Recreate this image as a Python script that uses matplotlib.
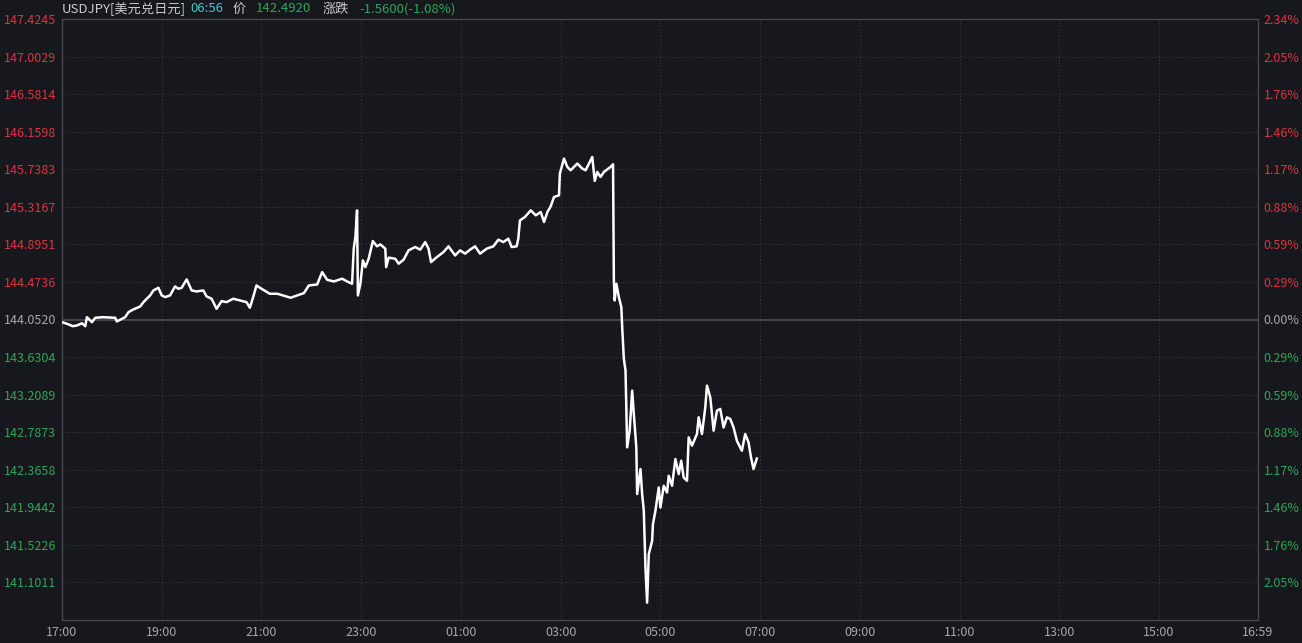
import matplotlib
matplotlib.use("Agg")
import matplotlib.pyplot as plt

plt.rcParams["font.family"] = ["Noto Sans CJK SC", "DejaVu Sans"]

# minutes since 17:00 and USDJPY price
minutes = [0, 6, 13, 18, 24, 28, 30, 36, 40, 49, 64, 66, 76, 80, 85, 94, 98, 106, 110, 116,
           120, 124, 130, 136, 140, 144, 150, 156, 162, 170, 174, 180, 186, 192, 198, 206, 214, 222, 226, 230,
           234, 240, 250, 259, 266, 275, 283, 291, 297, 307, 313, 319, 327, 337, 343, 349, 351, 353, 355, 356,
           359, 362, 365, 369, 374, 379, 383, 389, 390, 393, 401, 405, 411, 417, 425, 431, 437, 441, 444, 451,
           459, 465, 473, 479, 485, 491, 497, 503, 511, 519, 525, 531, 537, 541, 547, 549, 551, 557, 564, 570,
           576, 580, 584, 588, 592, 598, 599, 604, 608, 612, 620, 626, 630, 638, 641, 644, 648, 652, 660, 663,
           664, 665, 667, 670, 673, 674, 676, 678, 680, 683, 686, 688, 691, 692, 696, 698, 700, 702, 704, 706,
           710, 711, 714, 718, 720, 724, 728, 730, 734, 738, 742, 745, 748, 752, 754, 758, 764, 766, 770, 774,
           776, 780, 784, 788, 792, 796, 800, 804, 808, 812, 818, 822, 826, 829, 832, 836]
prices = [144.022, 144.004, 143.977, 143.985, 144.010, 143.977, 144.078, 144.022, 144.071, 144.078,
          144.071, 144.030, 144.078, 144.134, 144.161, 144.198, 144.247, 144.322, 144.378, 144.408,
          144.322, 144.303, 144.322, 144.423, 144.397, 144.408, 144.502, 144.378, 144.367, 144.378,
          144.311, 144.285, 144.172, 144.258, 144.247, 144.285, 144.266, 144.247, 144.184, 144.303,
          144.434, 144.397, 144.341, 144.341, 144.322, 144.296, 144.322, 144.348, 144.434, 144.445,
          144.584, 144.498, 144.479, 144.510, 144.479, 144.453, 144.847, 144.977, 145.277, 144.322,
          144.453, 144.715, 144.640, 144.734, 144.932, 144.873, 144.895, 144.847, 144.640, 144.746,
          144.734, 144.678, 144.723, 144.828, 144.865, 144.836, 144.921, 144.847, 144.696, 144.752,
          144.809, 144.873, 144.771, 144.828, 144.791, 144.836, 144.873, 144.791, 144.847, 144.873,
          144.948, 144.921, 144.959, 144.865, 144.873, 144.959, 145.165, 145.202, 145.277, 145.221,
          145.258, 145.146, 145.258, 145.322, 145.427, 145.446, 145.690, 145.858, 145.764, 145.727,
          145.802, 145.746, 145.727, 145.876, 145.607, 145.708, 145.652, 145.708, 145.764, 145.794,
          144.490, 144.266, 144.453, 144.303, 144.190, 143.965, 143.610, 143.479, 142.617, 142.804,
          143.254, 142.992, 142.617, 142.093, 142.374, 142.093, 141.905, 141.268, 140.874, 141.418,
          141.568, 141.755, 141.905, 142.167, 141.942, 142.186, 142.111, 142.298, 142.186, 142.486,
          142.317, 142.467, 142.279, 142.242, 142.729, 142.636, 142.767, 142.954, 142.767, 143.066,
          143.310, 143.179, 142.804, 143.029, 143.048, 142.841, 142.954, 142.936, 142.841, 142.692,
          142.579, 142.767, 142.673, 142.504, 142.374, 142.492]

prev_close = 144.0520
price_labels = ["147.4245", "147.0029", "146.5814", "146.1598", "145.7383", "145.3167", "144.8951",
                "144.4736", "144.0520", "143.6304", "143.2089", "142.7873", "142.3658", "141.9442",
                "141.5226", "141.1011"]
pct_labels = ["2.34%", "2.05%", "1.76%", "1.46%", "1.17%", "0.88%", "0.59%", "0.29%", "0.00%",
              "0.29%", "0.59%", "0.88%", "1.17%", "1.46%", "1.76%", "2.05%"]
time_ticks = [0, 120, 240, 360, 480, 600, 720, 840, 960, 1080, 1200, 1320, 1439]
time_labels = ["17:00", "19:00", "21:00", "23:00", "01:00", "03:00", "05:00", "07:00",
               "09:00", "11:00", "13:00", "15:00", "16:59"]

bg = "#16181d"
red = "#dc333f"
green = "#2ea556"
gray = "#a4a7ae"

fig = plt.figure(figsize=(13.02, 6.43), dpi=100, facecolor=bg)
ax = fig.add_axes([62 / 1302, 23 / 643, 1196 / 1302, 601 / 643])
ax.set_facecolor(bg)

top = float(price_labels[0])
step = (top - prev_close) / 8
ax.set_ylim(prev_close - 8 * step, top)
ax.set_xlim(time_ticks[0], time_ticks[-1])

# grid
for t in time_ticks[1:-1]:
    ax.axvline(t, color="#363a42", lw=0.8, ls=(0, (1, 2)), zorder=1)
for s in price_labels[1:]:
    v = float(s)
    if abs(v - prev_close) < 1e-6:
        ax.axhline(v, color="#4a4e57", lw=1.2, zorder=1)
    else:
        ax.axhline(v, color="#363a42", lw=0.8, ls=(0, (1, 2)), zorder=1)

ax.plot(minutes, prices, color="white", lw=1.8, zorder=3)

for sp in ax.spines.values():
    sp.set_color("#45484f")
    sp.set_linewidth(1)

ax.set_xticks(time_ticks)
ax.set_xticklabels(time_labels)
ax.tick_params(axis="x", length=0, colors=gray, labelsize=9, pad=4)

tick_vals = [float(s) for s in price_labels]
ax.set_yticks(tick_vals)
ax.set_yticklabels(price_labels)
ax.tick_params(axis="y", length=0, labelsize=9, pad=4)

ax2 = ax.twinx()
ax2.set_ylim(ax.get_ylim())
ax2.set_yticks(tick_vals)
ax2.set_yticklabels(pct_labels)
ax2.tick_params(axis="y", length=0, labelsize=9, pad=4)
for sp in ax2.spines.values():
    sp.set_visible(False)

for lab_l, lab_r, v in zip(ax.get_yticklabels(), ax2.get_yticklabels(), tick_vals):
    if v > prev_close + 1e-6:
        c = red
    elif v < prev_close - 1e-6:
        c = green
    else:
        c = gray
    lab_l.set_color(c)
    lab_r.set_color(c)

# header
ty = 1 - 9 / 643
fig.text(62 / 1302, ty, "USDJPY[美元兑日元]", color="#c9cbd0", fontsize=9.5, va="center")
fig.text(190 / 1302, ty, "06:56", color="#4cc3d2", fontsize=9.5, va="center")
fig.text(233 / 1302, ty, "价", color="#c9cbd0", fontsize=9.5, va="center")
fig.text(256 / 1302, ty, "142.4920", color=green, fontsize=9.5, va="center")
fig.text(323 / 1302, ty, "涨跌", color="#c9cbd0", fontsize=9.5, va="center")
fig.text(359 / 1302, ty, "-1.5600(-1.08%)", color=green, fontsize=9.5, va="center")

fig.savefig("out.png", dpi=100, facecolor=bg)
